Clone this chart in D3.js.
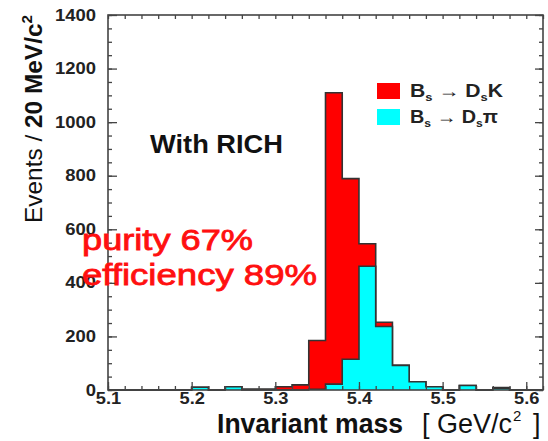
<!DOCTYPE html>
<html>
<head>
<meta charset="utf-8">
<script src="https://cdn.jsdelivr.net/npm/d3@7"></script>
<style>
  body { margin: 0; background: #fff; }
  svg { font-family: "Liberation Sans", Arial, Helvetica, sans-serif; }
</style>
</head>
<body>
<svg width="548" height="441"></svg>
<script>
// bin lower edges, 20 MeV bins
const binEdges = [5.10, 5.12, 5.14, 5.16, 5.18, 5.20, 5.22, 5.24, 5.26, 5.28,
                  5.30, 5.32, 5.34, 5.36, 5.38, 5.40, 5.42, 5.44, 5.46, 5.48,
                  5.50, 5.52, 5.54, 5.56, 5.58, 5.60];
const binWidth = 0.02;
// Bs -> Ds K (stacked on top of Ds pi)
const dsK  = [0, 0, 0, 0, 0, 0, 0, 0, 4, 4, 12, 19, 182, 1088, 674, 84, 16, 0, 0, 0, 0, 0, 0, 2, 0, 0];
// Bs -> Ds pi
const dsPi = [0, 0, 0, 0, 0, 10, 0, 12, 0, 0, 0, 0, 3, 22, 115, 462, 237, 92, 31, 12, 0, 17, 0, 7, 0, 0];

const xTickLabels = [5.1, 5.2, 5.3, 5.4, 5.5, 5.6];
const yTickLabels = [0, 200, 400, 600, 800, 1000, 1200, 1400];

const redColor = "#ff0000";
const cyanColor = "#00ffff";
const lineColor = "#333";

let svg = d3.select("svg");

const plotLeft = 108, plotRight = 543, plotTop = 15, plotBottom = 390;

let x = d3.scaleLinear().domain([5.1, 5.62]).range([plotLeft, plotRight]);
let y = d3.scaleLinear().domain([0, 1400]).range([plotBottom, plotTop]);

// stretch text horizontally a bit, the original is wider than plain Arial
function stretch(sel, f) {
    sel.each(function() {
        let t = d3.select(this);
        t.attr("textLength", this.getComputedTextLength() * f).attr("lengthAdjust", "spacingAndGlyphs");
    });
}

// histogram points: one per bin plus the closing edge
function histPoints(vals) {
    let pts = binEdges.map((e, i) => [e, vals[i]]);
    let lastEdge = binEdges[binEdges.length - 1] + binWidth;
    pts.push([lastEdge, vals[vals.length - 1]]);
    return pts;
}

function drawHist(vals, color) {
    let pts = histPoints(vals);
    let area = d3.area().curve(d3.curveStepAfter)
        .x(d => x(d[0])).y0(y(0)).y1(d => y(d[1]));
    let line = d3.line().curve(d3.curveStepAfter)
        .x(d => x(d[0])).y(d => y(d[1]));

    svg.append("path").attr("d", area(pts)).attr("fill", color);
    let outline = [[pts[0][0], 0]].concat(pts, [[pts[pts.length - 1][0], 0]]);
    svg.append("path").attr("d", line(outline))
        .attr("fill", "none").attr("stroke", lineColor).attr("stroke-width", 1.6);
}

let totals = dsK.map((d, i) => d + dsPi[i]);
drawHist(totals, redColor);
drawHist(dsPi, cyanColor);

// frame
svg.append("rect").attr("x", plotLeft).attr("y", plotTop)
    .attr("width", plotRight - plotLeft).attr("height", plotBottom - plotTop)
    .attr("fill", "none").attr("stroke", "#444").attr("stroke-width", 1.6);

function styleAxis(g) {
    g.select(".domain").remove();
    g.selectAll("line").attr("stroke", "#444").attr("stroke-width", 1.3);
}

let minorX = x.ticks(26);
let minorY = y.ticks(28);

// bottom
svg.append("g").attr("transform", "translate(0," + plotBottom + ")")
    .call(d3.axisBottom(x).tickValues(minorX).tickSize(-4).tickFormat(""))
    .call(styleAxis);
let xAxis = svg.append("g").attr("transform", "translate(0," + plotBottom + ")")
    .call(d3.axisBottom(x).tickValues(xTickLabels).tickSize(-8).tickPadding(3).tickFormat(d3.format(".1f")))
    .call(styleAxis);
xAxis.selectAll("text").attr("font-size", 16).attr("font-weight", "bold").attr("fill", "#222")
    .attr("font-family", "Liberation Sans, Arial, sans-serif");
stretch(xAxis.selectAll("text"), 1.14);

// top
svg.append("g").attr("transform", "translate(0," + plotTop + ")")
    .call(d3.axisTop(x).tickValues(minorX).tickSize(-4).tickFormat(""))
    .call(styleAxis);

// left
svg.append("g").attr("transform", "translate(" + plotLeft + ",0)")
    .call(d3.axisLeft(y).tickValues(minorY).tickSize(-4).tickFormat(""))
    .call(styleAxis);
let yAxis = svg.append("g").attr("transform", "translate(" + plotLeft + ",0)")
    .call(d3.axisLeft(y).tickValues(yTickLabels).tickSize(-9).tickPadding(12).tickFormat(d3.format("d")))
    .call(styleAxis);
yAxis.selectAll("text").attr("font-size", 16).attr("font-weight", "bold").attr("fill", "#222")
    .attr("font-family", "Liberation Sans, Arial, sans-serif");
stretch(yAxis.selectAll("text"), 1.15);

// right
svg.append("g").attr("transform", "translate(" + plotRight + ",0)")
    .call(d3.axisRight(y).tickValues(minorY).tickSize(-4).tickFormat(""))
    .call(styleAxis);
svg.append("g").attr("transform", "translate(" + plotRight + ",0)")
    .call(d3.axisRight(y).tickValues(yTickLabels).tickSize(-8).tickFormat(""))
    .call(styleAxis);

// y title
let yTitle = svg.append("text")
    .attr("transform", "translate(42,119) rotate(-90)")
    .attr("text-anchor", "middle").attr("font-size", 24).attr("fill", "#111")
    .attr("textLength", 208).attr("lengthAdjust", "spacingAndGlyphs");
yTitle.append("tspan").text("Events  /  ");
yTitle.append("tspan").attr("font-weight", "bold").text("20 MeV/c");
yTitle.append("tspan").attr("font-weight", "bold").attr("font-size", 15).attr("dy", -10).text("2");

// x title
svg.append("text").attr("x", 217).attr("y", 433)
    .attr("font-size", 27).attr("font-weight", "bold").attr("fill", "#111")
    .attr("textLength", 186).attr("lengthAdjust", "spacingAndGlyphs")
    .text("Invariant mass");
svg.append("text").attr("x", 422).attr("y", 433)
    .attr("font-size", 27).attr("fill", "#111")
    .attr("textLength", 90).attr("lengthAdjust", "spacingAndGlyphs")
    .text("[ GeV/c");
svg.append("text").attr("x", 513).attr("y", 421)
    .attr("font-size", 15).attr("fill", "#111").text("2");
svg.append("text").attr("x", 533).attr("y", 433)
    .attr("font-size", 27).attr("fill", "#111").text("]");

// label inside the plot
svg.append("text").attr("x", 150).attr("y", 153)
    .attr("font-size", 25).attr("font-weight", "bold").attr("fill", "#111")
    .attr("textLength", 133).attr("lengthAdjust", "spacingAndGlyphs")
    .text("With RICH");

// legend
const legendItems = [
    {color: redColor, parts: ["B", "s", " \u2192 D", "s", "K"], y: 83, len: 93},
    {color: cyanColor, parts: ["B", "s", " \u2192 D", "s", "\u03c0"], y: 109, len: 88}
];
legendItems.forEach(item => {
    svg.append("rect").attr("x", 377).attr("y", item.y).attr("width", 23).attr("height", 16)
        .attr("fill", item.color);
    let t = svg.append("text").attr("x", 410).attr("y", item.y + 14)
        .attr("font-size", 18).attr("font-weight", "bold").attr("fill", "#222")
        .attr("textLength", item.len).attr("lengthAdjust", "spacingAndGlyphs");
    item.parts.forEach((p, i) => {
        let sub = (i === 1 || i === 3);
        t.append("tspan").attr("font-size", sub ? 11 : 18)
            .attr("dy", sub ? 4 : (i === 0 ? 0 : -4)).text(p);
    });
});

// purity / efficiency annotation
svg.append("text").attr("x", 82).attr("y", 250)
    .attr("font-size", 29).attr("fill", "#ff1010").attr("stroke", "#ff1010").attr("stroke-width", 0.8)
    .attr("textLength", 171).attr("lengthAdjust", "spacingAndGlyphs")
    .text("purity 67%");
svg.append("text").attr("x", 82).attr("y", 285)
    .attr("font-size", 29).attr("fill", "#ff1010").attr("stroke", "#ff1010").attr("stroke-width", 0.8)
    .attr("textLength", 235).attr("lengthAdjust", "spacingAndGlyphs")
    .text("efficiency 89%");
</script>
</body>
</html>
